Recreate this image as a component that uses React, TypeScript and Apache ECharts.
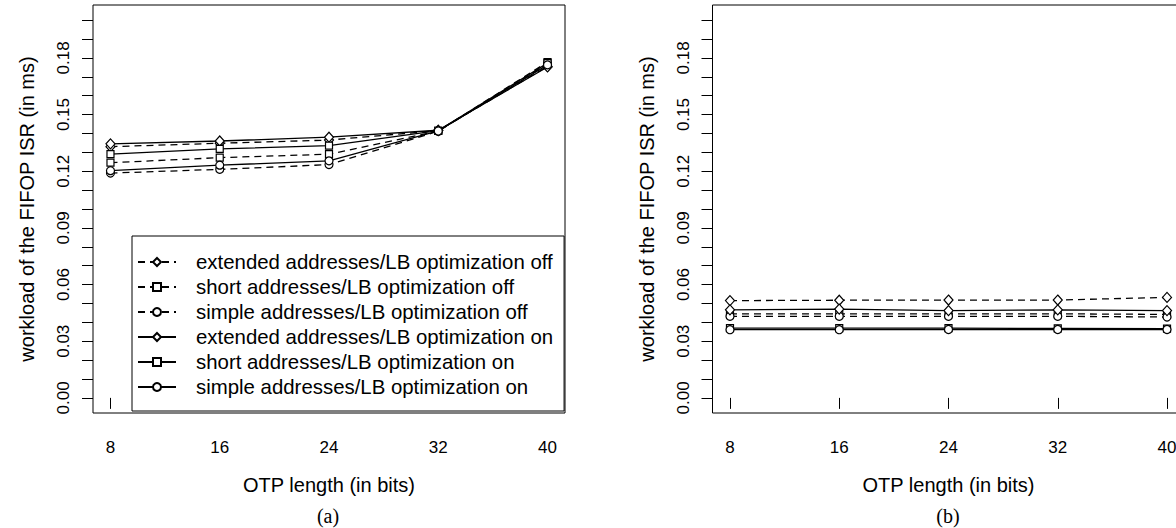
import React, { useEffect, useRef } from "react";
import * as echarts from "echarts";

const xValues = [8, 16, 24, 32, 40];
const seriesNames = [
  "extended addresses/LB optimization off",
  "short addresses/LB optimization off",
  "simple addresses/LB optimization off",
  "extended addresses/LB optimization on",
  "short addresses/LB optimization on",
  "simple addresses/LB optimization on",
];

// (a) values (ms)
const aExtOff = [0.133, 0.1348, 0.1365, 0.1415, 0.1755];
const aShortOff = [0.1245, 0.1272, 0.129, 0.1413, 0.1778];
const aSimpleOff = [0.119, 0.121, 0.1235, 0.1412, 0.1768];
const aExtOn = [0.1345, 0.136, 0.138, 0.1417, 0.1752];
const aShortOn = [0.129, 0.1318, 0.1335, 0.1415, 0.1772];
const aSimpleOn = [0.1203, 0.1232, 0.1255, 0.1413, 0.1763];

// (b) values (ms)
const bExtOff = [0.0515, 0.0517, 0.0518, 0.0518, 0.0532];
const bShortOff = [0.0445, 0.0445, 0.0445, 0.0445, 0.0442];
const bSimpleOff = [0.0432, 0.0432, 0.0432, 0.0432, 0.0428];
const bExtOn = [0.0466, 0.047, 0.0462, 0.0466, 0.0462];
const bShortOn = [0.0369, 0.0369, 0.0369, 0.0368, 0.0367];
const bSimpleOn = [0.0361, 0.0361, 0.0362, 0.0362, 0.0362];

const yTickValues = [
  0, 0.01, 0.02, 0.03, 0.04, 0.05, 0.06, 0.07, 0.08, 0.09, 0.1, 0.11, 0.12,
  0.13, 0.14, 0.15, 0.16, 0.17, 0.18, 0.19, 0.2,
];
const yLabelValues = [0, 0.03, 0.06, 0.09, 0.12, 0.15, 0.18];
const xTickValues = [8, 16, 24, 32, 40];

const xTitle = "OTP length (in bits)";
const yTitle = "workload of the FIFOP ISR (in ms)";
const captions = ["(a)", "(b)"];

const SANS = "'Liberation Sans', Arial, Helvetica, sans-serif";
const SERIF = "'Liberation Serif', 'Times New Roman', serif";

const symbols = ["diamond", "rect", "circle", "diamond", "rect", "circle"];
const symbolSizes: any[] = [[9, 10], 7, 8, [9, 10], 7, 8];
const dashed = [true, true, true, false, false, false];

export default function App() {
  const ref = useRef<HTMLDivElement>(null);
  useEffect(() => {
    if (!ref.current) return;
    const chart = echarts.init(ref.current, null, { renderer: "svg" });
    const aData = [aExtOff, aShortOff, aSimpleOff, aExtOn, aShortOn, aSimpleOn];
    const bData = [bExtOff, bShortOff, bSimpleOff, bExtOn, bShortOn, bSimpleOn];

    const grids = [
      { left: 93, top: 5, width: 472, height: 408 },
      { left: 712.5, top: 5, width: 472, height: 408 },
    ].map((g) => ({
      ...g,
      show: true,
      borderColor: "#000",
      borderWidth: 1,
      backgroundColor: "transparent",
      containLabel: false,
    }));

    const xAxes = [0, 1].map((i) => ({
      type: "value",
      gridIndex: i,
      min: 6.72,
      max: 41.28,
      name: xTitle,
      nameLocation: "middle",
      nameGap: 62,
      nameTextStyle: { fontFamily: SANS, fontSize: 20, color: "#000" },
      axisLine: { show: false },
      splitLine: { show: false },
      axisTick: {
        show: true,
        inside: false,
        length: 11,
        customValues: xTickValues,
        lineStyle: { color: "#000", width: 1 },
      },
      axisLabel: {
        show: true,
        customValues: xTickValues,
        margin: 26,
        fontFamily: SANS,
        fontSize: 17,
        color: "#000",
      },
    }));

    const yAxes = [0, 1].map((i) => ({
      type: "value",
      gridIndex: i,
      min: -0.008,
      max: 0.208,
      name: yTitle,
      nameLocation: "middle",
      nameRotate: 90,
      nameGap: 56,
      nameTextStyle: { fontFamily: SANS, fontSize: 20, color: "#000" },
      axisLine: { show: false },
      splitLine: { show: false },
      axisTick: {
        show: true,
        inside: false,
        length: 11,
        customValues: yTickValues,
        lineStyle: { color: "#000", width: 1 },
      },
      axisLabel: {
        show: true,
        customValues: yLabelValues,
        rotate: 90,
        margin: 21,
        fontFamily: SANS,
        fontSize: 17,
        color: "#000",
        formatter: (v: number) => v.toFixed(2),
      },
    }));

    const mkSeries = (data: number[][], idx: number) =>
      data.map((vals, k) => ({
        type: "line",
        name: seriesNames[k],
        xAxisIndex: idx,
        yAxisIndex: idx,
        data: vals.map((v, j) => [xValues[j], v]),
        symbol: symbols[k],
        symbolSize: symbolSizes[k],
        showSymbol: true,
        lineStyle: {
          color: "#000",
          width: 1.3,
          type: dashed[k] ? [7, 5] : "solid",
        },
        itemStyle: { color: "#fff", borderColor: "#000", borderWidth: 1.2 },
        emphasis: { disabled: true },
        z: 3,
      }));

    chart.setOption({
      animation: false,
      backgroundColor: "#fff",
      grid: grids,
      xAxis: xAxes,
      yAxis: yAxes,
      legend: {
        data: seriesNames,
        orient: "vertical",
        left: 132,
        top: 236,
        padding: [14, 11, 12, 5],
        itemWidth: 38,
        itemHeight: 10,
        itemGap: 1,
        selectedMode: false,
        backgroundColor: "#fff",
        borderColor: "#000",
        borderWidth: 1,
        borderRadius: 0,
        textStyle: {
          fontFamily: SANS,
          fontSize: 20.4,
          color: "#000",
          lineHeight: 24,
          padding: [0, 0, 0, 15],
        },
      },
      series: [...mkSeries(aData, 0), ...mkSeries(bData, 1)],
      graphic: [
        {
          type: "text",
          x: 328,
          y: 516,
          style: {
            text: captions[0],
            font: `20px ${SERIF}`,
            fill: "#000",
            textAlign: "center",
            textVerticalAlign: "middle",
          },
        },
        {
          type: "text",
          x: 948,
          y: 516,
          style: {
            text: captions[1],
            font: `20px ${SERIF}`,
            fill: "#000",
            textAlign: "center",
            textVerticalAlign: "middle",
          },
        },
      ],
    });
    return () => chart.dispose();
  }, []);
  return (
    <div
      style={{
        position: "fixed",
        left: 0,
        top: 0,
        width: 1176,
        height: 528,
        overflow: "hidden",
        background: "#fff",
      }}
    >
      <div ref={ref} style={{ width: 1200, height: 528 }} />
    </div>
  );
}
